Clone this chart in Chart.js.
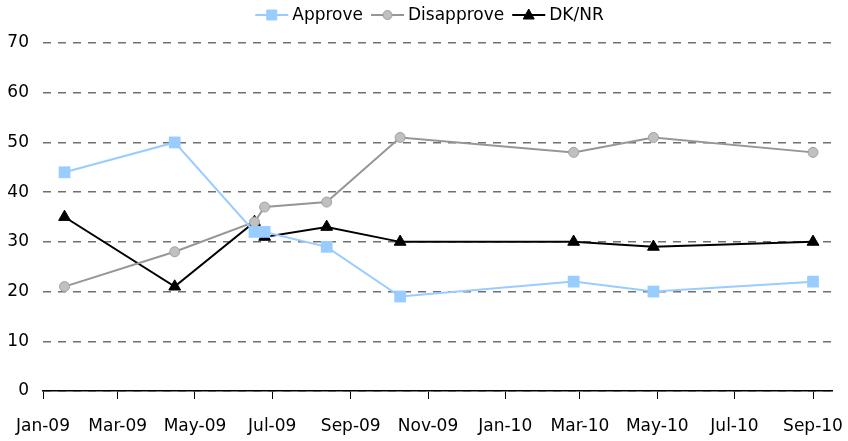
<!DOCTYPE html>
<html lang="en">
<head>
    <meta charset="UTF-8">
    <title>Approve / Disapprove</title>
    <script src="https://cdn.jsdelivr.net/npm/chart.js"></script>
    <style>
        html, body { margin: 0; padding: 0; background: #fff; }
        #wrap { width: 848px; height: 441px; }
    </style>
</head>
<body>
    <div id="wrap"><canvas id="chart"></canvas></div>

    <script>
        // survey dates and results
        const surveyDates = ['2009-01-18', '2009-04-15', '2009-06-17', '2009-06-25', '2009-08-13',
                             '2009-10-10', '2010-02-24', '2010-04-28', '2010-09-01'];
        const approve    = [44, 50, 32, 32, 29, 19, 22, 20, 22];
        const disapprove = [21, 28, 34, 37, 38, 51, 48, 51, 48];
        const dkNr       = [35, 21, 34, 31, 33, 30, 30, 29, 30];

        // x axis ticks (every two months)
        const tickDates  = ['2009-01-01', '2009-03-01', '2009-05-01', '2009-07-01', '2009-09-01', '2009-11-01',
                            '2010-01-01', '2010-03-01', '2010-05-01', '2010-07-01', '2010-09-01'];
        const tickLabels = ['Jan-09', 'Mar-09', 'May-09', 'Jul-09', 'Sep-09', 'Nov-09',
                            'Jan-10', 'Mar-10', 'May-10', 'Jul-10', 'Sep-10'];
        const axisStart = '2009-01-01';
        const axisEnd   = '2010-09-16';

        const FONT = '"DejaVu Sans", Verdana, sans-serif';

        // days since axis start
        function dayNum(s) {
            const p = s.split('-').map(Number);
            const a = axisStart.split('-').map(Number);
            return (Date.UTC(p[0], p[1] - 1, p[2]) - Date.UTC(a[0], a[1] - 1, a[2])) / 86400000;
        }

        function toPoints(values) {
            return values.map((v, i) => ({ x: dayNum(surveyDates[i]), y: v }));
        }

        const tickValues = tickDates.map(dayNum);

        // legend drawn as line + marker, like the original
        const lineLegend = {
            id: 'lineLegend',
            afterDraw(chart) {
                const ctx = chart.ctx;
                const area = chart.chartArea;
                ctx.save();
                ctx.font = '17px ' + FONT;
                ctx.textBaseline = 'middle';
                const y = 15;
                const lineLen = 33, gap = 4, itemGap = 8;
                const items = chart.data.datasets.map(ds => ({
                    ds: ds,
                    w: lineLen + gap + ctx.measureText(ds.label).width
                }));
                const total = items.reduce((s, it) => s + it.w, 0) + itemGap * (items.length - 1);
                let x = (area.left + area.right) / 2 - 8 - total / 2;
                items.forEach(it => {
                    const ds = it.ds;
                    ctx.strokeStyle = ds.borderColor;
                    ctx.lineWidth = 2;
                    ctx.beginPath();
                    ctx.moveTo(x, y);
                    ctx.lineTo(x + lineLen, y);
                    ctx.stroke();

                    const cx = x + lineLen / 2;
                    ctx.fillStyle = ds.pointBackgroundColor;
                    ctx.strokeStyle = ds.pointBorderColor;
                    ctx.lineWidth = 1;
                    ctx.beginPath();
                    if (ds.pointStyle === 'rect') {
                        ctx.rect(cx - 5, y - 5, 10, 10);
                    } else if (ds.pointStyle === 'circle') {
                        ctx.arc(cx, y, 4.5, 0, Math.PI * 2);
                    } else {
                        ctx.moveTo(cx, y - 6);
                        ctx.lineTo(cx + 5.5, y + 4);
                        ctx.lineTo(cx - 5.5, y + 4);
                        ctx.closePath();
                    }
                    ctx.fill();
                    ctx.stroke();

                    ctx.fillStyle = '#000';
                    ctx.textAlign = 'left';
                    ctx.fillText(ds.label, x + lineLen + gap, y + 1);
                    x += it.w + itemGap;
                });
                ctx.restore();
            }
        };

        const ctx = document.getElementById('chart').getContext('2d');

        new Chart(ctx, {
            type: 'line',
            data: {
                datasets: [
                    {
                        label: 'Approve',
                        data: toPoints(approve),
                        borderColor: '#99CCFF',
                        backgroundColor: '#99CCFF',
                        borderWidth: 2,
                        pointStyle: 'rect',
                        pointRadius: 8.3,
                        pointBackgroundColor: '#99CCFF',
                        pointBorderColor: '#99CCFF',
                        pointBorderWidth: 0,
                        tension: 0
                    },
                    {
                        label: 'Disapprove',
                        data: toPoints(disapprove),
                        borderColor: '#969696',
                        backgroundColor: '#C0C0C0',
                        borderWidth: 2,
                        pointStyle: 'circle',
                        pointRadius: 5,
                        pointBackgroundColor: '#C0C0C0',
                        pointBorderColor: '#A0A0A0',
                        pointBorderWidth: 1,
                        tension: 0
                    },
                    {
                        label: 'DK/NR',
                        data: toPoints(dkNr),
                        borderColor: '#000000',
                        backgroundColor: '#000000',
                        borderWidth: 2,
                        pointStyle: 'triangle',
                        pointRadius: 6.8,
                        pointBackgroundColor: '#000000',
                        pointBorderColor: '#000000',
                        pointBorderWidth: 1,
                        tension: 0
                    }
                ]
            },
            options: {
                responsive: true,
                maintainAspectRatio: false,
                animation: false,
                layout: { padding: { top: 43, right: 16, left: 0, bottom: 0 } },
                plugins: {
                    legend: { display: false },
                    tooltip: { enabled: false }
                },
                scales: {
                    x: {
                        type: 'linear',
                        min: 0,
                        max: dayNum(axisEnd),
                        afterBuildTicks: scale => {
                            scale.ticks = tickValues.map(v => ({ value: v }));
                        },
                        afterFit: scale => {
                            scale.height = 50;
                            scale.paddingLeft = 0;
                            scale.paddingRight = 0;
                        },
                        ticks: {
                            autoSkip: false,
                            maxRotation: 0,
                            padding: 17,
                            color: '#000',
                            font: { family: FONT, size: 17 },
                            callback: (value, index) => tickLabels[index]
                        },
                        grid: {
                            drawOnChartArea: false,
                            drawTicks: true,
                            tickLength: 8,
                            color: '#000',
                            lineWidth: 1
                        },
                        border: { display: true, color: '#000', width: 1.5 }
                    },
                    y: {
                        min: 0,
                        max: 70,
                        afterFit: scale => { scale.width = 43; },
                        ticks: {
                            stepSize: 10,
                            padding: 14,
                            color: '#000',
                            font: { family: FONT, size: 17 }
                        },
                        grid: {
                            drawTicks: false,
                            color: '#707070',
                            lineWidth: 1.5
                        },
                        border: { display: false, dash: [8, 7] }
                    }
                }
            },
            plugins: [lineLegend]
        });
    </script>
</body>
</html>
